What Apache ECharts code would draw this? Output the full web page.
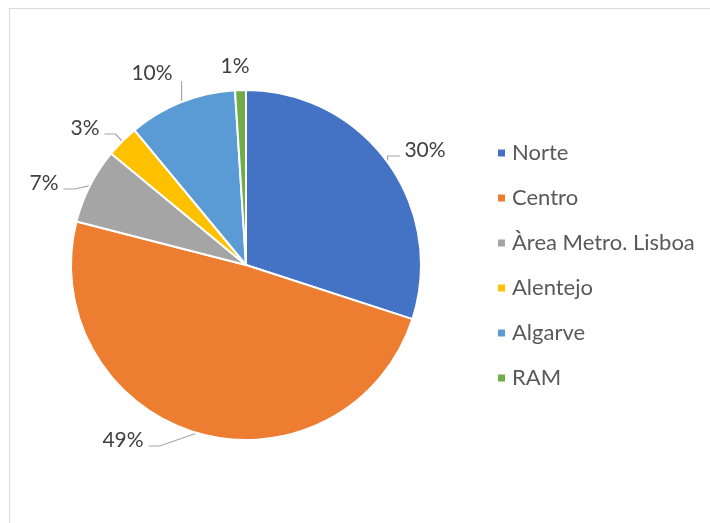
<!DOCTYPE html>
<html>
<head>
<meta charset="utf-8">
<script src="https://cdn.jsdelivr.net/npm/echarts@6/dist/echarts.min.js"></script>
<style>
  html, body { margin: 0; padding: 0; background: #fff; }
  #frame { position: absolute; left: 9px; top: 8px; width: 720px; height: 540px; border: 1px solid #d9d9d9; box-sizing: border-box; }
  #chart { position: absolute; left: 0; top: 0; width: 710px; height: 523px; }
</style>
</head>
<body>
<div id="frame"></div>
<div id="chart"></div>
<script>
// Regions and their shares (percent)
const regions = ['Norte', 'Centro', 'Àrea Metro. Lisboa', 'Alentejo', 'Algarve', 'RAM'];
const shares = [30, 49, 7, 3, 10, 1];
const colors = ['#4472c4', '#ed7d31', '#a5a5a5', '#ffc000', '#5b9bd5', '#70ad47'];

// Where each percentage label sits (text centre, px) and whether it gets a leader line
const labelSpots = [[425, 150], [123, 440], [44, 183], [85, 128], [152, 73], [235, 66]];
const leaderShown = [true, true, true, true, true, false];

const FONT = 'Lato, "Open Sans", sans-serif';
const chart = echarts.init(document.getElementById('chart'), null, { renderer: 'canvas' });

// Leader line: from the slice's edge anchor, a bend, then a short run that stops
// a few pixels before the label text, level with its lower half.
function leader(anchor, spot, halfWidth) {
  const toRight = spot[0] > anchor[0];
  const y = spot[1] + 6;
  let endX = toRight ? spot[0] - halfWidth - 4 : spot[0] + halfWidth + 5;
  if (Math.abs(endX - anchor[0]) < 5) endX = anchor[0];
  const elbowX = toRight ? Math.max(anchor[0], endX - 13) : Math.min(anchor[0], endX + 11);
  const endY = Math.abs(endX - anchor[0]) < 1 ? spot[1] + 8 : y;
  return [anchor, [elbowX, endY], [endX, endY]];
}

chart.setOption({
  animation: false,
  color: colors,
  legend: {
    orient: 'vertical',
    left: 491,
    top: 137,
    itemWidth: 9,
    itemHeight: 9,
    itemGap: 23,
    icon: 'rect',
    textStyle: { fontFamily: FONT, fontSize: 22, lineHeight: 22, color: '#595959', padding: [0, 0, 0, 1] },
    data: regions
  },
  series: [{
    type: 'pie',
    center: [246, 265],
    radius: [0, 175],
    startAngle: 90,
    clockwise: true,
    data: regions.map((n, i) => ({ name: n, value: shares[i], labelLine: { show: leaderShown[i] } })),
    itemStyle: { borderColor: '#fff', borderWidth: 2 },
    label: {
      show: true,
      position: 'outside',
      formatter: p => Math.round(p.percent) + '%',
      fontFamily: FONT,
      fontSize: 21,
      color: '#404040'
    },
    labelLine: {
      show: true,
      length: 8,
      length2: 10,
      lineStyle: { color: '#a6a6a6', width: 1.2 }
    },
    labelLayout: p => {
      const i = p.dataIndex;
      const s = labelSpots[i];
      const out = { x: s[0], y: s[1], align: 'center', verticalAlign: 'middle' };
      if (leaderShown[i] && p.labelLinePoints) {
        out.labelLinePoints = leader(p.labelLinePoints[0], s, p.labelRect.width / 2);
      }
      return out;
    },
    emphasis: { disabled: true }
  }]
});
</script>
</body>
</html>
